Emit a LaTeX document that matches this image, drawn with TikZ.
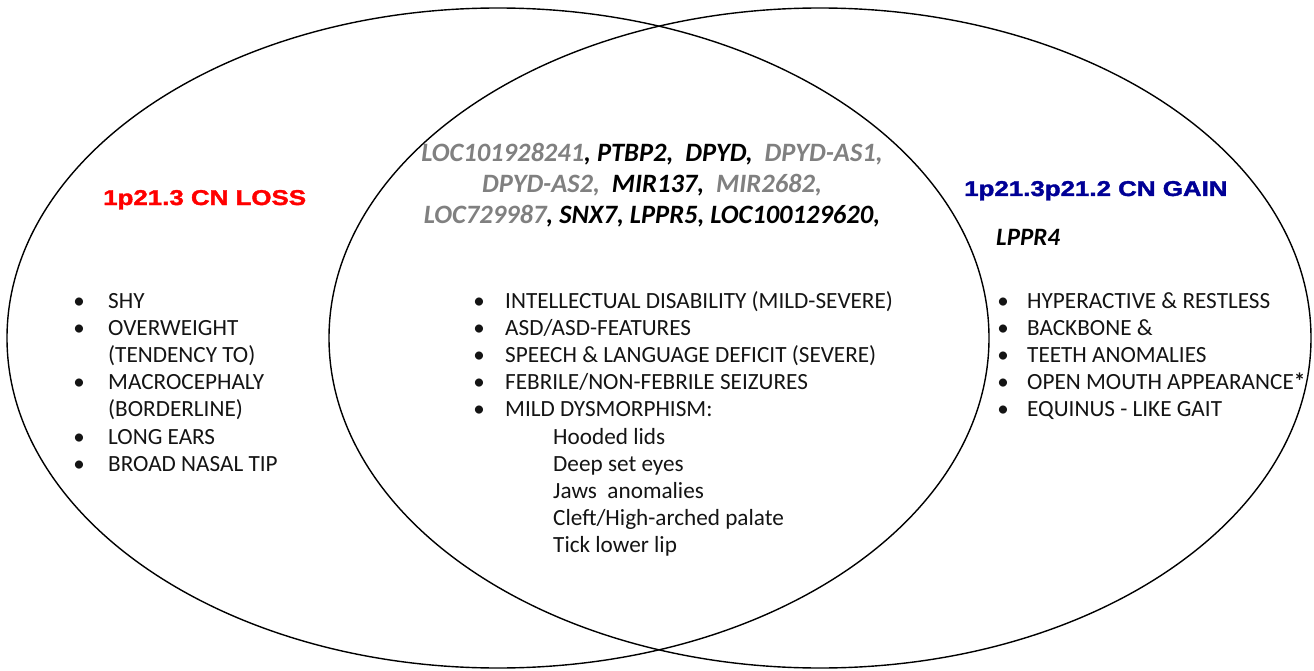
\documentclass[tikz,border=0pt]{standalone}
\usepackage{fontspec}
\usepackage{graphicx}
\setmainfont{Carlito}
\newfontfamily\arialfont[BoldFeatures={FakeBold=1.6}]{Liberation Sans}
\definecolor{genegray}{RGB}{128,128,128}
\definecolor{lossred}{RGB}{255,0,0}
\definecolor{gainblue}{RGB}{0,0,150}
\definecolor{txt}{RGB}{20,20,20}
\newcommand{\wide}[1]{\scalebox{1.21}[1]{#1}}
\begin{document}
\begin{tikzpicture}[x=1pt,y=-1pt,
  circ/.style={line width=1.4pt, draw=black},
  item/.style={anchor=base west, inner sep=0pt, text=txt, font=\fontsize{23.2}{27}\selectfont},
  bul/.style={anchor=base, inner sep=0pt, text=txt, font=\fontsize{23}{27}\selectfont},
  gene/.style={anchor=base, inner sep=0pt, font=\fontsize{26.5}{30}\selectfont\bfseries\itshape},
  title/.style={anchor=base west, inner sep=0pt, font=\fontsize{21.4}{25}\selectfont\arialfont\bfseries}]
\useasboundingbox (0,0) rectangle (1314,671);
\fill[white] (0,0) rectangle (1314,671);
\draw[circ] (498,338) ellipse [x radius=491pt, y radius=330pt];
\draw[circ] (820,338) ellipse [x radius=491pt, y radius=330pt];

% titles
\node[title, text=lossred] (loss) at (103,205) {\wide{1p21.3 CN LOSS}};
\node[title, text=gainblue] (gain) at (964,196) {\wide{1p21.3p21.2 CN GAIN}};
\node[gene, anchor=base west, font=\fontsize{25}{30}\selectfont\bfseries\itshape] (lppr4) at (996,245) {LPPR4};

% gene list
\node[gene] (g1) at (652,162) {\textcolor{genegray}{LOC101928241}, PTBP2,\ \ DPYD,\ \ \textcolor{genegray}{DPYD-AS1,}};
\node[gene] (g2) at (652,193) {\textcolor{genegray}{DPYD-AS2,}\ \ MIR137,\ \ \textcolor{genegray}{MIR2682,}};
\node[gene] (g3) at (652,223) {\textcolor{genegray}{LOC729987}, SNX7, LPPR5, LOC100129620,};

% left list
\foreach \t/\y/\b [count=\i] in {SHY/308/1, OVERWEIGHT/335.2/1, {(TENDENCY TO)}/362.4/0, MACROCEPHALY/389.6/1, {(BORDERLINE)}/416.8/0, LONG EARS/444/1, BROAD NASAL TIP/471.2/1}{
  \node[item] (l\i) at (108,\y) {\t};
  \ifnum\b=1 \node[bul] (lb\i) at (79,\y) {\textbullet}; \fi
}

% middle list
\foreach \t/\y [count=\i] in {{INTELLECTUAL DISABILITY (MILD-SEVERE)}/308, {ASD/ASD-FEATURES}/335.2, {SPEECH \& LANGUAGE DEFICIT (SEVERE)}/362.4, {FEBRILE/NON-FEBRILE SEIZURES}/389.6, {MILD DYSMORPHISM:}/416.8}{
  \node[item] (m\i) at (505,\y) {\t};
  \node[bul] (mb\i) at (479,\y) {\textbullet};
}
\foreach \t/\y [count=\i] in {{Hooded lids}/444, {Deep set eyes}/471.2, {Jaws\ \ anomalies}/498.4, {Cleft/High-arched palate}/525.6, {Tick lower lip}/552.8}{
  \node[item] (s\i) at (553,\y) {\t};
}

% right list
\foreach \t/\y [count=\i] in {{HYPERACTIVE \& RESTLESS}/308, {BACKBONE \&}/335.2, {TEETH ANOMALIES}/362.4, {OPEN MOUTH APPEARANCE\textbf{*}}/389.6, {EQUINUS - LIKE GAIT}/416.8}{
  \node[item] (r\i) at (1027,\y) {\t};
  \node[bul] (rb\i) at (1003,\y) {\textbullet};
}
\end{tikzpicture}
\end{document}
